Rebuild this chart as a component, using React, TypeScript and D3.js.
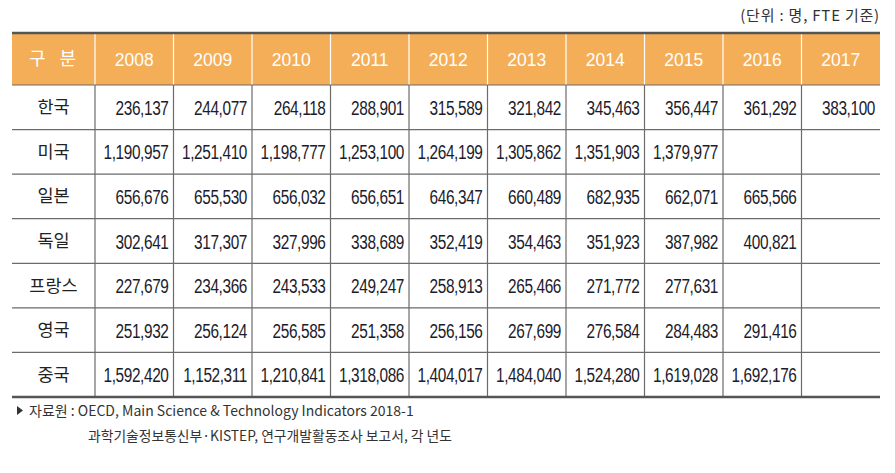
import React from "react";
import * as d3 from "d3";

const years = ["2008", "2009", "2010", "2011", "2012", "2013", "2014", "2015", "2016", "2017"];
const countries = ["한국", "미국", "일본", "독일", "프랑스", "영국", "중국"];
const korea = ["236,137", "244,077", "264,118", "288,901", "315,589", "321,842", "345,463", "356,447", "361,292", "383,100"];
const usa = ["1,190,957", "1,251,410", "1,198,777", "1,253,100", "1,264,199", "1,305,862", "1,351,903", "1,379,977", "", ""];
const japan = ["656,676", "655,530", "656,032", "656,651", "646,347", "660,489", "682,935", "662,071", "665,566", ""];
const germany = ["302,641", "317,307", "327,996", "338,689", "352,419", "354,463", "351,923", "387,982", "400,821", ""];
const france = ["227,679", "234,366", "243,533", "249,247", "258,913", "265,466", "271,772", "277,631", "", ""];
const uk = ["251,932", "256,124", "256,585", "251,358", "256,156", "267,699", "276,584", "284,483", "291,416", ""];
const china = ["1,592,420", "1,152,311", "1,210,841", "1,318,086", "1,404,017", "1,484,040", "1,524,280", "1,619,028", "1,692,176", ""];
const rows = [korea, usa, japan, germany, france, uk, china];
const headerLabel = "구  분";
const unitText = "(단위 : 명, FTE 기준)";
const source1 = "자료원 : OECD, Main Science & Technology Indicators 2018-1";
const source2 = "과학기술정보통신부·KISTEP, 연구개발활동조사 보고서, 각 년도";

const W = 895, H = 473;
const left = 12, firstColRight = 95, right = 880;
const top = 33, headerBottom = 85, bottom = 397;

const KR = "'Noto Sans CJK KR', 'Noto Sans', sans-serif";
const NUM = "'Liberation Sans', Arial, sans-serif";

export default function App() {
  const x = d3.scaleBand<string>().domain(years).range([firstColRight, right]).padding(0);
  const y = d3.scaleBand<string>().domain(countries).range([headerBottom, bottom]).padding(0);
  const grid = "#6b6b6b";
  return (
    <svg width={W} height={H} style={{ position: "absolute", left: 0, top: 0, background: "#fff" }}>
      <text x={right} y={21} textAnchor="end" fontFamily={KR} fontSize={15} letterSpacing={0.8} fill="#333" style={{ whiteSpace: "pre" }}>{unitText}</text>
      <rect x={left} y={top} width={right - left} height={headerBottom - top} fill="#F4AE57" />
      <text x={(left + firstColRight) / 2} y={(top + headerBottom) / 2 + 6} textAnchor="middle" fontFamily={KR} fontSize={18} letterSpacing={2} fill="#fff" style={{ whiteSpace: "pre" }}>{headerLabel}</text>
      {years.map((yr) => (
        <g key={yr}>
          <text x={(x(yr) as number) + x.bandwidth() / 2} y={(top + headerBottom) / 2 + 6.5} textAnchor="middle" fontFamily={NUM} fontSize={17.5} fill="#fff">{yr}</text>
          <line x1={x(yr)} x2={x(yr)} y1={top} y2={headerBottom} stroke="#fff" strokeWidth={1.2} />
          <line x1={x(yr)} x2={x(yr)} y1={headerBottom} y2={bottom} stroke={grid} strokeWidth={1.2} />
        </g>
      ))}
      {countries.map((c, i) => {
        const yy = y(c) as number;
        const cy = yy + y.bandwidth() / 2;
        return (
          <g key={c}>
            {i > 0 && <line x1={left} x2={right} y1={yy} y2={yy} stroke={grid} strokeWidth={1.2} />}
            <text x={(left + firstColRight) / 2} y={cy + 6} textAnchor="middle" fontFamily={KR} fontSize={17.5} fill="#222">{c}</text>
            {rows[i].map((v, j) => (
              <text key={j} transform={`translate(${(x(years[j]) as number) + x.bandwidth() - 5},${cy + 7.5}) scale(0.77,1)`} textAnchor="end" fontFamily={NUM} fontSize={20} letterSpacing={-0.5} fill="#1c1c2c">{v}</text>
            ))}
          </g>
        );
      })}
      <line x1={left} x2={right} y1={headerBottom} y2={headerBottom} stroke={grid} strokeWidth={1.2} />
      <line x1={left} x2={right} y1={top} y2={top} stroke="#555" strokeWidth={2.5} />
      <line x1={left} x2={right} y1={bottom} y2={bottom} stroke="#555" strokeWidth={2.5} />
      <path d="M17,406 L23,410.5 L17,415 Z" fill="#333" />
      <text x={29} y={416} fontFamily={KR} fontSize={14} fill="#333">{source1}</text>
      <text x={88} y={441} fontFamily={KR} fontSize={13.8} fill="#333">{source2}</text>
    </svg>
  );
}
